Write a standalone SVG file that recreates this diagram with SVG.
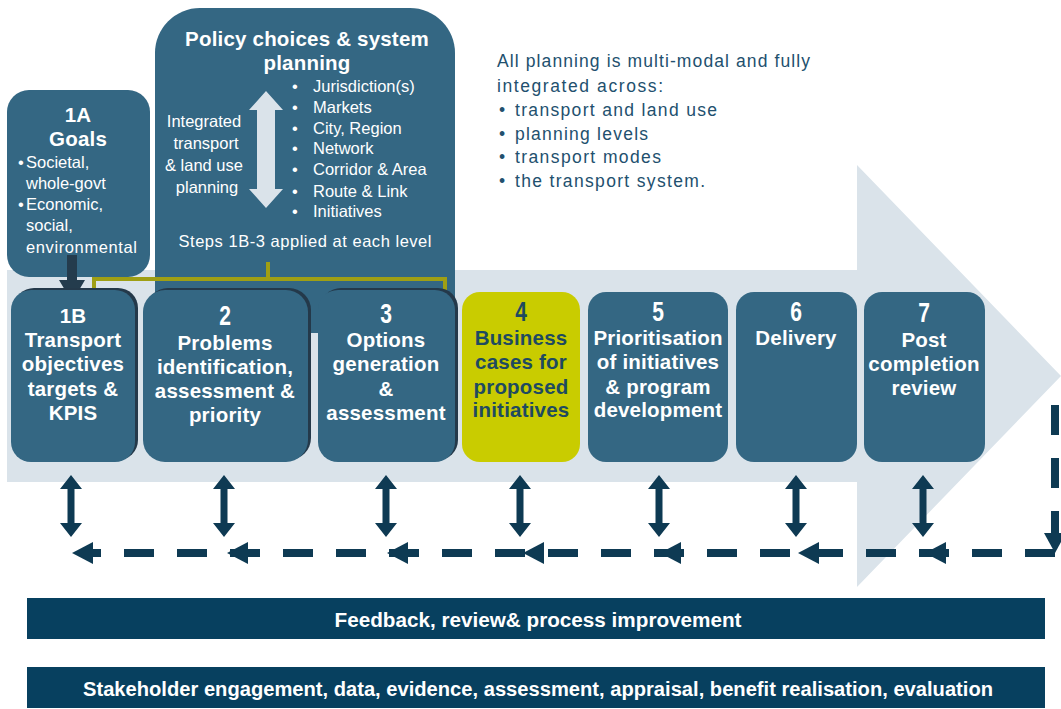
<svg xmlns="http://www.w3.org/2000/svg" xmlns:xlink="http://www.w3.org/1999/xlink" width="1061" height="709" viewBox="0 0 1061 709">
  <style>
    .box { fill: #346783; }
    .shadow { fill: #24394a; }
    .num { font-family: "Liberation Sans", Arial, sans-serif; font-size: 27px; font-weight: bold; fill: #ffffff; text-anchor: middle; }
    .lbl { font-family: "Liberation Sans", Arial, sans-serif; font-size: 20.5px; font-weight: bold; fill: #ffffff; text-anchor: middle; letter-spacing: 0.2px; }
    .small { font-family: "Liberation Sans", Arial, sans-serif; font-size: 16.5px; fill: #ffffff; }
    .note { font-family: "Liberation Sans", Arial, sans-serif; font-size: 17.5px; fill: #22506e; }
    .bar { fill: #07405f; }
    .bartext { font-family: "Liberation Sans", Arial, sans-serif; font-size: 20px; font-weight: bold; fill: #ffffff; text-anchor: middle; }
    .link { fill: none; stroke: #0e3a53; stroke-width: 8; stroke-dasharray: 30 23; }
    .ink { fill: #0e3a53; }
  </style>
  <defs>
    <!-- two-headed vertical arrow, centred on x=0, spanning y 0..62 -->
    <polygon id="dbl" points="0,0 11,14 3.5,14 3.5,48 11,48 0,62 -11,48 -3.5,48 -3.5,14 -11,14" fill="#0e3a53"/>
    <!-- left-pointing head for the feedback line, tip at origin -->
    <polygon id="lhead" points="0,0 21,-11 21,11" fill="#0e3a53"/>
  </defs>

  <rect width="1061" height="709" fill="#ffffff"/>

  <!-- large background process arrow -->
  <polygon points="7,270 857,270 857,165 1061,376 857,587 857,482 7,482" fill="#dae3ea"/>

  <!-- policy choices panel -->
  <g id="policy">
    <path class="box" d="M155,333 V53 A45,45 0 0 1 200,8 H410 A45,45 0 0 1 455,53 V333 Z"/>
    <text class="lbl" x="307" y="46" font-size="20.5">Policy choices &amp; system</text>
    <text class="lbl" x="307" y="70" font-size="20.5">planning</text>
    <g class="small" text-anchor="middle">
      <text x="204" y="127">Integrated</text>
      <text x="206" y="149">transport</text>
      <text x="204" y="171">&amp; land use</text>
      <text x="207" y="193">planning</text>
    </g>
    <polygon points="266,91 283,110 275,110 275,189 283,189 266,208 249,189 257,189 257,110 249,110" fill="#dae3ea"/>
    <g class="small">
      <text x="292" y="92">•</text><text x="313" y="92">Jurisdiction(s)</text>
      <text x="292" y="113">•</text><text x="313" y="113">Markets</text>
      <text x="292" y="134">•</text><text x="313" y="134">City, Region</text>
      <text x="292" y="154">•</text><text x="313" y="154">Network</text>
      <text x="292" y="175">•</text><text x="313" y="175">Corridor &amp; Area</text>
      <text x="292" y="197">•</text><text x="313" y="197">Route &amp; Link</text>
      <text x="292" y="217">•</text><text x="313" y="217">Initiatives</text>
    </g>
    <text class="small" x="305" y="247" text-anchor="middle" textLength="253" lengthAdjust="spacing">Steps 1B-3 applied at each level</text>
  </g>

  <!-- goals -->
  <g id="n1A">
    <rect class="box" x="7" y="90" width="143" height="187" rx="22"/>
    <text class="lbl" x="78" y="122" font-size="24">1A</text>
    <text class="lbl" x="78" y="146" font-size="20">Goals</text>
    <g class="small">
      <text x="18" y="168">•</text><text x="26" y="168">Societal,</text>
      <text x="26" y="189">whole-govt</text>
      <text x="18" y="210">•</text><text x="26" y="210">Economic,</text>
      <text x="26" y="231">social,</text>
      <text x="26" y="253" textLength="111" lengthAdjust="spacing">environmental</text>
    </g>
  </g>

  <!-- note on integration -->
  <g id="note" class="note">
    <text x="497" y="67" textLength="313" lengthAdjust="spacing">All planning is multi-modal  and  fully</text>
    <text x="497" y="92" textLength="166" lengthAdjust="spacing">integrated across:</text>
    <text x="499" y="116">•</text><text x="515" y="116" textLength="202" lengthAdjust="spacing">transport and land use</text>
    <text x="499" y="140">•</text><text x="515" y="140" textLength="133" lengthAdjust="spacing">planning levels</text>
    <text x="499" y="163">•</text><text x="515" y="163" textLength="146" lengthAdjust="spacing">transport modes</text>
    <text x="499" y="187">•</text><text x="515" y="187" textLength="190" lengthAdjust="spacing">the transport system.</text>
  </g>

  <g id="connectors">
    <!-- goals feed objectives -->
    <polygon points="67,255 77,255 77,280 85,280 72,302 59,280 67,280" fill="#243c4d"/>
    <!-- bracket grouping steps 1B-3 -->
    <path d="M94,288 V279 H445 V293 M268,262 V279" fill="none" stroke="#9f9f14" stroke-width="4"/>
  </g>

  <!-- process steps -->
  <g id="n1B">
    <rect class="shadow" x="14" y="288" width="124" height="172" rx="20"/>
    <rect class="box" x="11" y="290" width="124" height="172" rx="20"/>
    <text class="lbl" x="73" y="323" font-size="25">1B</text>
    <text class="lbl" x="73" y="347">Transport</text>
    <text class="lbl" x="73" y="371">objectives</text>
    <text class="lbl" x="73" y="396">targets &amp;</text>
    <text class="lbl" x="73" y="420">KPIS</text>
  </g>
  <g id="n2">
    <rect class="shadow" x="146" y="288" width="165" height="172" rx="22"/>
    <rect class="box" x="143" y="290" width="165" height="172" rx="22"/>
    <text class="num" transform="translate(225,325) scale(0.78,1)">2</text>
    <text class="lbl" x="225" y="350">Problems</text>
    <text class="lbl" x="225" y="374">identification,</text>
    <text class="lbl" x="225" y="398">assessment &amp;</text>
    <text class="lbl" x="225" y="422">priority</text>
  </g>
  <g id="n3">
    <rect class="shadow" x="321" y="288" width="137" height="172" rx="20"/>
    <rect class="box" x="318" y="290" width="137" height="172" rx="20"/>
    <text class="num" transform="translate(386,323) scale(0.78,1)">3</text>
    <text class="lbl" x="386" y="347">Options</text>
    <text class="lbl" x="386" y="371">generation</text>
    <text class="lbl" x="386" y="396">&amp;</text>
    <text class="lbl" x="386" y="420">assessment</text>
  </g>
  <g id="n4">
    <rect x="462" y="292" width="118" height="170" rx="18" fill="#c9cc00"/>
    <text class="num" transform="translate(521,321) scale(0.78,1)" style="fill:#1e4a60">4</text>
    <g class="lbl" style="fill:#1e4a60">
      <text x="521" y="345">Business</text>
      <text x="521" y="369">cases for</text>
      <text x="521" y="394">proposed</text>
      <text x="521" y="417">initiatives</text>
    </g>
  </g>
  <g id="n5">
    <rect class="box" x="588" y="292" width="140" height="170" rx="18"/>
    <text class="num" transform="translate(658,321) scale(0.78,1)">5</text>
    <text class="lbl" x="658" y="345">Prioritisation</text>
    <text class="lbl" x="658" y="369">of initiatives</text>
    <text class="lbl" x="658" y="394">&amp; program</text>
    <text class="lbl" x="658" y="417">development</text>
  </g>
  <g id="n6">
    <rect class="box" x="736" y="292" width="121" height="170" rx="18"/>
    <text class="num" transform="translate(796,321) scale(0.78,1)">6</text>
    <text class="lbl" x="796" y="345">Delivery</text>
  </g>
  <g id="n7">
    <rect class="box" x="864" y="292" width="121" height="170" rx="18"/>
    <text class="num" transform="translate(924,322) scale(0.78,1)">7</text>
    <text class="lbl" x="924" y="347">Post</text>
    <text class="lbl" x="924" y="371">completion</text>
    <text class="lbl" x="924" y="395">review</text>
  </g>

  <!-- feedback loop -->
  <g id="feedback">
    <use href="#dbl" xlink:href="#dbl" x="71" y="475"/>
    <use href="#dbl" xlink:href="#dbl" x="224" y="475"/>
    <use href="#dbl" xlink:href="#dbl" x="386" y="475"/>
    <use href="#dbl" xlink:href="#dbl" x="520" y="475"/>
    <use href="#dbl" xlink:href="#dbl" x="659" y="475"/>
    <use href="#dbl" xlink:href="#dbl" x="796" y="475"/>
    <use href="#dbl" xlink:href="#dbl" x="923" y="475"/>
    <path class="link" d="M1055,405 V553"/>
    <path class="link" d="M1055,553 H90"/>
    <polygon class="ink" points="1044,533 1066,533 1055,553"/>
    <use href="#lhead" xlink:href="#lhead" x="72" y="553"/>
    <use href="#lhead" xlink:href="#lhead" x="227" y="553"/>
    <use href="#lhead" xlink:href="#lhead" x="387" y="553"/>
    <use href="#lhead" xlink:href="#lhead" x="523" y="553"/>
    <use href="#lhead" xlink:href="#lhead" x="660" y="553"/>
    <use href="#lhead" xlink:href="#lhead" x="798" y="553"/>
    <use href="#lhead" xlink:href="#lhead" x="925" y="553"/>
  </g>

  <!-- supporting bars -->
  <g id="bar1">
    <rect class="bar" x="27" y="598" width="1018" height="41"/>
    <text class="bartext" x="538" y="627" textLength="407" lengthAdjust="spacingAndGlyphs">Feedback, review&amp; process improvement</text>
  </g>
  <g id="bar2">
    <rect class="bar" x="27" y="667" width="1018" height="41"/>
    <text class="bartext" x="538" y="696" textLength="910" lengthAdjust="spacingAndGlyphs">Stakeholder engagement, data, evidence, assessment, appraisal, benefit realisation, evaluation</text>
  </g>
</svg>
